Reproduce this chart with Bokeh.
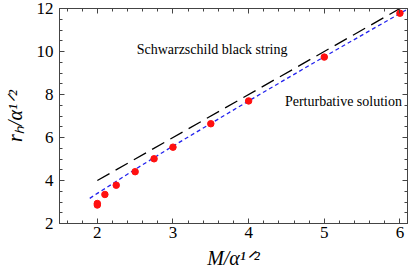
from bokeh.plotting import figure
from bokeh.models import LinearAxis, FixedTicker, Label, Range1d
from bokeh.embed import file_html
from bokeh.resources import INLINE

# ---- data ----
bs_M = [2.0, 6.0]
bs_r = [4.0, 12.0]

pert_M = [1.9, 2.0, 2.5, 3.0, 4.0, 5.0, 6.1]
pert_r = [3.17, 3.40, 4.52, 5.60, 7.70, 9.76, 11.97]

num_M = [2.0, 2.0, 2.1, 2.25, 2.5, 2.75, 3.0, 3.5, 4.0, 5.0, 6.0]
num_r = [2.86, 2.93, 3.35, 3.78, 4.41, 5.01, 5.55, 6.64, 7.70, 9.74, 11.78]

x_ticks = [2, 3, 4, 5, 6]
y_ticks = [2, 4, 6, 8, 10, 12]
x_minor = [1.6, 1.8, 2.2, 2.4, 2.6, 2.8, 3.2, 3.4, 3.6, 3.8, 4.2, 4.4, 4.6, 4.8,
           5.2, 5.4, 5.6, 5.8, 6.0]
y_minor = [2.5, 3, 3.5, 4.5, 5, 5.5, 6.5, 7, 7.5, 8.5, 9, 9.5, 10.5, 11, 11.5]

x_title = "M/α¹ᐟ²"
y_title = "rₕ/α¹ᐟ²"

SERIF = "Liberation Serif"
AX = "#444444"

p = figure(width=409, height=273, output_backend="svg", toolbar_location=None,
           x_range=Range1d(1.5, 6.1), y_range=Range1d(2, 12),
           min_border_left=56, min_border_right=2, min_border_top=8,
           min_border_bottom=50, x_axis_location=None, y_axis_location=None)
p.grid.visible = False
p.outline_line_color = AX
p.background_fill_color = "white"
p.border_fill_color = "white"


def style(ax, labels=True):
    ax.axis_line_color = AX
    ax.major_tick_line_color = AX
    ax.minor_tick_line_color = AX
    ax.major_tick_in = 5
    ax.major_tick_out = 0
    ax.minor_tick_in = 3
    ax.minor_tick_out = 0
    ax.major_label_text_font = SERIF
    ax.major_label_text_font_size = "17px"
    ax.major_label_text_color = "black" if labels else None
    ax.major_label_standoff = 3
    ax.axis_label_text_font = SERIF
    ax.axis_label_text_font_size = "20px"
    ax.axis_label_text_font_style = "italic"
    ax.axis_label_text_color = "black"


bx = LinearAxis(ticker=FixedTicker(ticks=x_ticks, minor_ticks=x_minor),
                axis_label=x_title)
ly = LinearAxis(ticker=FixedTicker(ticks=y_ticks, minor_ticks=y_minor),
                axis_label=y_title)
tx = LinearAxis(ticker=FixedTicker(ticks=x_ticks, minor_ticks=x_minor))
ry = LinearAxis(ticker=FixedTicker(ticks=y_ticks, minor_ticks=y_minor))
style(bx); style(ly); style(tx, False); style(ry, False)
ly.major_label_standoff = 6
bx.axis_label_standoff = 6
ly.axis_label_standoff = 8
p.add_layout(bx, "below")
p.add_layout(ly, "left")
p.add_layout(tx, "above")
p.add_layout(ry, "right")

p.line(bs_M, bs_r, line_color="black", line_width=1.3, line_dash="14 7")
p.line(pert_M, pert_r, line_color="#2222ee", line_width=1.3, line_dash="4 3")
p.scatter(num_M, num_r, size=6.5, fill_color="#ff1010", line_color="#ff1010")

p.add_layout(Label(x=2.52, y=10.1, text="Schwarzschild black string",
                   text_font=SERIF, text_font_size="14px", text_baseline="middle",
                   text_color="black"))
p.add_layout(Label(x=4.48, y=7.67, text="Perturbative solution",
                   text_font=SERIF, text_font_size="14px", text_baseline="middle",
                   text_color="black"))

open("out.html", "w").write(file_html(p, INLINE))
